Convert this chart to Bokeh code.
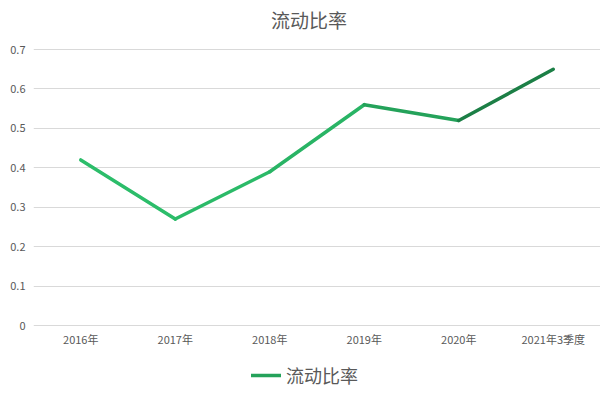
from bokeh.plotting import figure
from bokeh.models import FactorRange, FixedTicker, Legend, LegendItem, ColumnDataSource, Range1d, Label
from bokeh.embed import file_html
from bokeh.resources import INLINE

categories = ["2016年", "2017年", "2018年", "2019年", "2020年", "2021年3季度"]
values = [0.42, 0.27, 0.39, 0.56, 0.52, 0.65]
y_ticks = [0, 0.1, 0.2, 0.3, 0.4, 0.5, 0.6, 0.7]
series_name = "流动比率"
title_text = "流动比率"

seg_colors = ["#2cbd6a", "#2bba68", "#29b465", "#24a25a", "#1c7f46"]

FONT = "Noto Sans CJK SC"
TXT = "#595959"

# layout (pixels): plot area 0.7 -> y=49, 0 -> y=325 within a 396px tall frame
FRAME_W, FRAME_H = 567, 396
TOP_PX, ZERO_PX = 49, 325
y_top = y_ticks[-1]
k = (ZERO_PX - TOP_PX) / y_top
y_end = y_top + TOP_PX / k
y_start = -(FRAME_H - ZERO_PX) / k

p = figure(x_range=FactorRange(*categories), y_range=Range1d(y_start, y_end),
           frame_width=FRAME_W, frame_height=FRAME_H,
           min_border_left=33, min_border_right=0, min_border_top=0, min_border_bottom=0,
           output_backend="svg", toolbar_location=None, tools="")
p.outline_line_color = None
p.background_fill_color = "white"
p.border_fill_color = "white"

xs = [[categories[i], categories[i + 1]] for i in range(len(categories) - 1)]
ys = [[values[i], values[i + 1]] for i in range(len(values) - 1)]
src = ColumnDataSource(dict(xs=xs, ys=ys, c=seg_colors))
r = p.multi_line("xs", "ys", source=src, line_color="c", line_width=3.5,
                 line_cap="round", line_join="round")

p.xgrid.grid_line_color = None
p.ygrid.grid_line_color = "#d9d9d9"
p.ygrid.grid_line_width = 1
p.ygrid.ticker = FixedTicker(ticks=y_ticks)

p.yaxis.ticker = FixedTicker(ticks=y_ticks)
p.yaxis.major_label_overrides = {0: "0"}
for ax in (p.xaxis[0], p.yaxis[0]):
    ax.axis_line_color = None
    ax.major_tick_line_color = None
    ax.minor_tick_line_color = None
    ax.major_tick_out = 0
    ax.major_tick_in = 0
    ax.minor_tick_out = 0
    ax.minor_tick_in = 0
    ax.major_label_text_font = FONT
    ax.major_label_text_font_size = "11px"
    ax.major_label_text_color = TXT
p.yaxis.major_label_standoff = 8
p.xaxis.fixed_location = 0
p.xaxis.major_label_standoff = 5

# chart title, centred on the chart area (synthetic x coordinate of the category axis)
title_x = (308.5 - 33) / (FRAME_W / len(categories))
title_y = y_top + (TOP_PX - 19) / k
p.add_layout(Label(x=title_x, y=title_y, text=title_text, text_align="center",
                   text_baseline="middle", text_font=FONT, text_font_size="19px",
                   text_color=TXT))

legend = Legend(items=[LegendItem(label=series_name, renderers=[r], index=3)],
                orientation="horizontal", location=(218, 8),
                label_text_font=FONT, label_text_font_size="18px", label_text_color=TXT,
                glyph_width=30, glyph_height=20, label_standoff=5,
                border_line_color=None, background_fill_alpha=0, padding=2, margin=0)
p.add_layout(legend, "center")

open("out.html", "w").write(file_html(p, INLINE))
